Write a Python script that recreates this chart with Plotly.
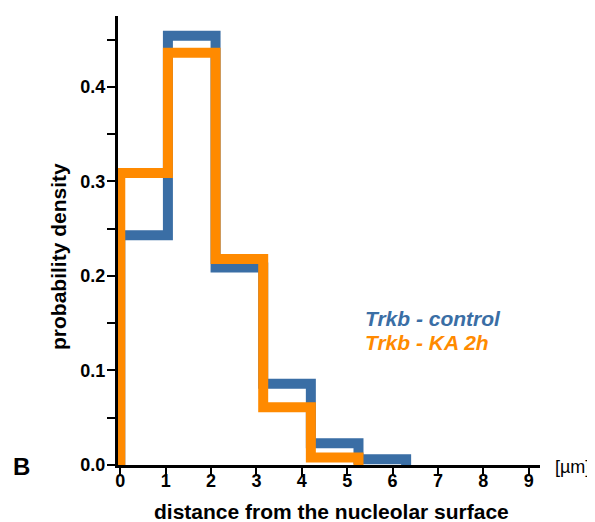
import plotly.graph_objects as go

# bin edges (µm) and probability densities
bin_edges = [0, 1.05, 2.1, 3.15, 4.2, 5.25, 6.3]
control_density = [0.243, 0.454, 0.209, 0.086, 0.023, 0.006]
ka2h_density = [0.309, 0.436, 0.218, 0.061, 0.008]

y_ticks = [0.0, 0.1, 0.2, 0.3, 0.4]
x_ticks = [0, 1, 2, 3, 4, 5, 6, 7, 8, 9]

BLUE = "#3a6ea5"
ORANGE = "#ff8a00"
FONT = "Liberation Sans, Arial, sans-serif"

# page body has an 8px margin; figure sized to fit window
OFF = 8
W, H = 595 - OFF, 522 - OFF
ML, MR, MT, MB = 118 - OFF, 55, 16 - OFF, 57


def step_xy(edges, vals):
    n = len(vals)
    xs = [edges[0]] + list(edges[1:n + 1]) + [edges[n]]
    ys = [0] + list(vals) + [0]
    return xs, ys


fig = go.Figure()
cx, cy = step_xy(bin_edges, control_density)
fig.add_trace(go.Scatter(x=cx, y=cy, mode="lines", line=dict(color=BLUE, width=10, shape="vh"),
                         showlegend=False, hoverinfo="skip"))
kx, ky = step_xy(bin_edges, ka2h_density)
fig.add_trace(go.Scatter(x=kx, y=ky, mode="lines", line=dict(color=ORANGE, width=10, shape="vh"),
                         showlegend=False, hoverinfo="skip"))

fig.update_layout(
    width=W, height=H,
    margin=dict(l=ML, r=MR, t=MT, b=MB, pad=0),
    paper_bgcolor="white", plot_bgcolor="rgba(0,0,0,0)",
    font=dict(family=FONT, color="black"),
    xaxis=dict(range=[-0.05, 9.25], tickvals=x_ticks, ticktext=[str(v) for v in x_ticks],
               showgrid=False, zeroline=False, showline=True, linecolor="black", linewidth=3,
               ticks="outside", ticklen=8, tickwidth=2, tickcolor="black",
               ticklabelstandoff=-11,
               tickfont=dict(family=FONT, size=18, color="black", weight="bold")),
    yaxis=dict(range=[0, 0.475], tickvals=y_ticks, ticktext=[f"{v:.1f}" for v in y_ticks],
               showgrid=False, zeroline=False, showline=True, linecolor="black", linewidth=3,
               ticks="outside", ticklen=8, tickwidth=2, tickcolor="black",
               ticklabelstandoff=-2,
               tickfont=dict(family=FONT, size=18, color="black", weight="bold"),
               minor=dict(dtick=0.05, tick0=0, ticks="outside", ticklen=8, tickwidth=2, tickcolor="black")),
)

# annotation positions given in window pixels
ann = [
    dict(text="probability density", x=58, y=257, textangle=-90,
         font=dict(size=21, weight="bold")),
    dict(text="distance from the nucleolar surface", x=331, y=512,
         font=dict(size=21, weight="bold")),
    dict(text="B", x=21, y=467, font=dict(size=24, weight="bold")),
    dict(text="[µm]", x=572, y=467, font=dict(size=18)),
    dict(text="Trkb - control", x=363, y=318, xanchor="left",
         font=dict(size=21, weight="bold", style="italic", color=BLUE)),
    dict(text="Trkb - KA 2h", x=363, y=342, xanchor="left",
         font=dict(size=21, weight="bold", style="italic", color=ORANGE)),
]
pw, ph = W - ML - MR, H - MT - MB
for a in ann:
    xa = a.pop("xanchor", "center")
    px, py = a.pop("x") - OFF, a.pop("y") - OFF
    fig.add_annotation(xref="paper", yref="paper", x=(px - ML) / pw, y=(H - MB - py) / ph,
                       showarrow=False, xanchor=xa, yanchor="middle", **a)

fig.write_html("out.html")
